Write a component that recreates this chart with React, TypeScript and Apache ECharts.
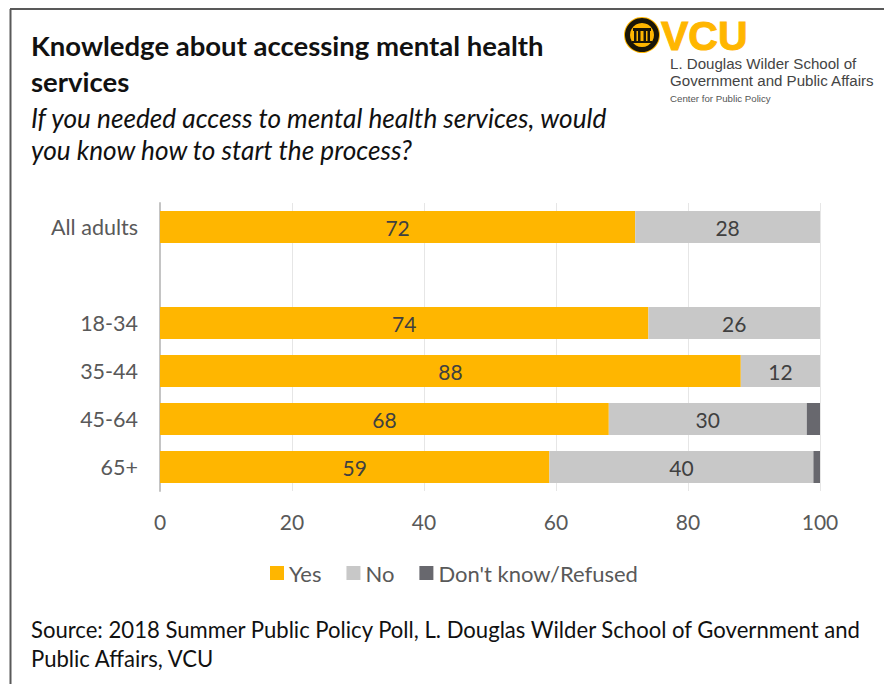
import React, { useEffect, useRef } from "react";
import * as echarts from "echarts";

const categories = ["All adults", "", "18-34", "35-44", "45-64", "65+"];
const yesValues = [72, null, 74, 88, 68, 59];
const noValues = [28, null, 26, 12, 30, 40];
const refusedValues = [null, null, null, null, 2, 1];
const axisTicks = [0, 20, 40, 60, 80, 100];

const titleLines = "Knowledge about accessing mental health\nservices";
const subtitleLines = "If you needed access to mental health services, would\nyou know how to start the process?";
const sourceLines = "Source: 2018 Summer Public Policy Poll, L. Douglas Wilder School of Government and\nPublic Affairs, VCU";

const FONT = "Lato";
const GOLD = "#FFB600";
const GREY = "#C8C8C8";
const DARK = "#68686E";
const TEXT = "#595959";

export default function App() {
  const ref = useRef<HTMLDivElement>(null);

  useEffect(() => {
    document.body.style.margin = "0";
    const chart = echarts.init(ref.current!, null, { renderer: "svg" });
    const barLabel = {
      show: true,
      position: "inside" as const,
      color: "#404040",
      fontFamily: FONT,
      fontSize: 21,
    };
    chart.setOption({
      animation: false,
      backgroundColor: "#fff",
      textStyle: { fontFamily: FONT },
      grid: { left: 160, top: 203, width: 660, height: 288 },
      legend: {
        left: 265,
        top: 557,
        itemWidth: 14,
        itemHeight: 14,
        itemGap: 25,
        icon: "rect",
        textStyle: { color: TEXT, fontFamily: FONT, fontSize: 22 },
        data: ["Yes", "No", "Don't know/Refused"],
      },
      xAxis: {
        type: "value",
        min: axisTicks[0],
        max: axisTicks[axisTicks.length - 1],
        interval: 20,
        axisLine: { show: false },
        axisTick: { show: false },
        axisLabel: { color: TEXT, fontFamily: FONT, fontSize: 21, margin: 20 },
        splitLine: { show: true, lineStyle: { color: "#E6E6E6", width: 1 } },
      },
      yAxis: {
        type: "category",
        inverse: true,
        data: categories,
        axisLine: { show: true, lineStyle: { color: "#C4C4C4", width: 2 } },
        axisTick: { show: false },
        axisLabel: { color: TEXT, fontFamily: FONT, fontSize: 21.5, margin: 22, padding: [0, 0, 4, 0] },
      },
      series: [
        { name: "Yes", type: "bar", stack: "share", barWidth: 32, data: yesValues, itemStyle: { color: GOLD }, label: barLabel },
        { name: "No", type: "bar", stack: "share", barWidth: 32, data: noValues, itemStyle: { color: GREY }, label: barLabel },
        { name: "Don't know/Refused", type: "bar", stack: "share", barWidth: 32, data: refusedValues, itemStyle: { color: DARK } },
      ],
      graphic: [
        // frame around the panel
        { type: "line", shape: { x1: 10.5, y1: 9, x2: 10.5, y2: 684 }, style: { stroke: "#595959", lineWidth: 2 } },
        { type: "line", shape: { x1: 10, y1: 9, x2: 884, y2: 9 }, style: { stroke: "#595959", lineWidth: 2 } },
        // headings
        { type: "text", x: 31, y: 27, style: { text: titleLines, fontFamily: FONT, fontWeight: "bold", fontSize: 27.5, lineHeight: 36, fill: "#111" } },
        { type: "text", x: 31, y: 102, style: { text: subtitleLines, fontFamily: FONT, fontStyle: "italic", fontSize: 26.2, lineHeight: 32, fill: "#111" } },
        { type: "text", x: 31, y: 615, style: { text: sourceLines, fontFamily: FONT, fontSize: 22.1, lineHeight: 29, fill: "#111" } },
        // university seal
        { type: "circle", shape: { cx: 642, cy: 35, r: 18 }, style: { fill: GOLD } },
        { type: "circle", shape: { cx: 642, cy: 35, r: 17 }, style: { fill: "#1A1608" } },
        { type: "circle", shape: { cx: 642, cy: 35, r: 12 }, style: { fill: GOLD } },
        { type: "rect", shape: { x: 633, y: 28, width: 18, height: 3 }, style: { fill: "#1A1608" } },
        { type: "rect", shape: { x: 634, y: 31, width: 2.5, height: 10 }, style: { fill: "#1A1608" } },
        { type: "rect", shape: { x: 638, y: 31, width: 2.5, height: 10 }, style: { fill: "#1A1608" } },
        { type: "rect", shape: { x: 643.5, y: 31, width: 2.5, height: 10 }, style: { fill: "#1A1608" } },
        { type: "rect", shape: { x: 647.5, y: 31, width: 2.5, height: 10 }, style: { fill: "#1A1608" } },
        { type: "rect", shape: { x: 632, y: 41, width: 20, height: 2 }, style: { fill: "#1A1608" } },
        // wordmark and school name
        { type: "text", x: 661, y: 15, style: { text: "VCU", fontFamily: "Liberation Sans", fontWeight: "bold", fontSize: 41, fill: GOLD, stroke: GOLD, lineWidth: 1 } },
        { type: "text", x: 670, y: 56, style: { text: "L. Douglas Wilder School of", fontFamily: "Liberation Sans", fontSize: 15.1, fill: "#444" } },
        { type: "text", x: 670, y: 73, style: { text: "Government and Public Affairs", fontFamily: "Liberation Sans", fontSize: 15.1, fill: "#444" } },
        { type: "text", x: 670, y: 93, style: { text: "Center for Public Policy", fontFamily: "Liberation Sans", fontSize: 9.7, fill: "#555" } },
      ],
    });
    return () => chart.dispose();
  }, []);

  return <div ref={ref} style={{ width: 884, height: 684 }} />;
}
